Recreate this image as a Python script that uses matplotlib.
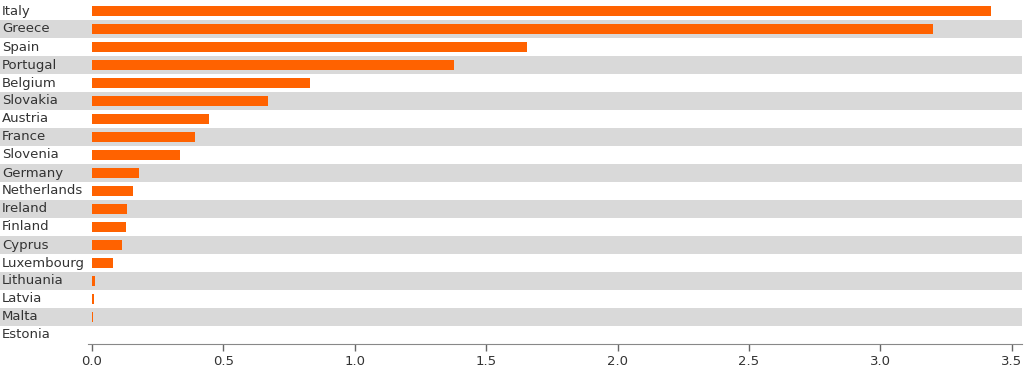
import matplotlib.pyplot as plt

# values
countries = ["Italy", "Greece", "Spain", "Portugal", "Belgium", "Slovakia", "Austria",
             "France", "Slovenia", "Germany", "Netherlands", "Ireland", "Finland",
             "Cyprus", "Luxembourg", "Lithuania", "Latvia", "Malta", "Estonia"]
values = [3.422, 3.199, 1.655, 1.378, 0.83, 0.67, 0.447, 0.392, 0.335, 0.179,
          0.156, 0.133, 0.13, 0.114, 0.08, 0.011, 0.006, 0.004, 0.0]
xticks = [0.0, 0.5, 1.0, 1.5, 2.0, 2.5, 3.0, 3.5]

orange = "#ff6200"
band = "#d9d9d9"
txt = "#333333"

plt.rcParams['font.family'] = ['DejaVu Sans']

fig = plt.figure(figsize=(10.24, 3.7), dpi=100)
ax = fig.add_axes([0, 26 / 370, 1022 / 1024, 342 / 370])

xmin, xmax = -0.35, 3.539
ax.set_xlim(xmin, xmax)
ax.set_ylim(len(countries) - 0.5, -0.5)

# alternating grey bands behind every second row
for i in range(len(countries)):
    if i % 2 == 1:
        ax.axhspan(i - 0.5, i + 0.5, color=band, lw=0, zorder=0)

ax.barh(range(len(countries)), values, height=0.55, color=orange, zorder=2)

for i, name in enumerate(countries):
    ax.text(2 / 1022, i, name, transform=ax.get_yaxis_transform(), ha="left",
            va="center", fontsize=9.5, color=txt)

ax.set_yticks([])
ax.set_xticks(xticks)
ax.set_xticklabels([f"{t:.1f}" for t in xticks])
ax.tick_params(axis="x", length=5, width=1, color="#666666", labelcolor=txt,
               labelsize=9.5, pad=3)
for s in ["top", "right", "left"]:
    ax.spines[s].set_visible(False)
ax.spines["bottom"].set_color("#888888")
ax.spines["bottom"].set_bounds(-0.015, xmax)

fig.savefig("out.png", dpi=100)
